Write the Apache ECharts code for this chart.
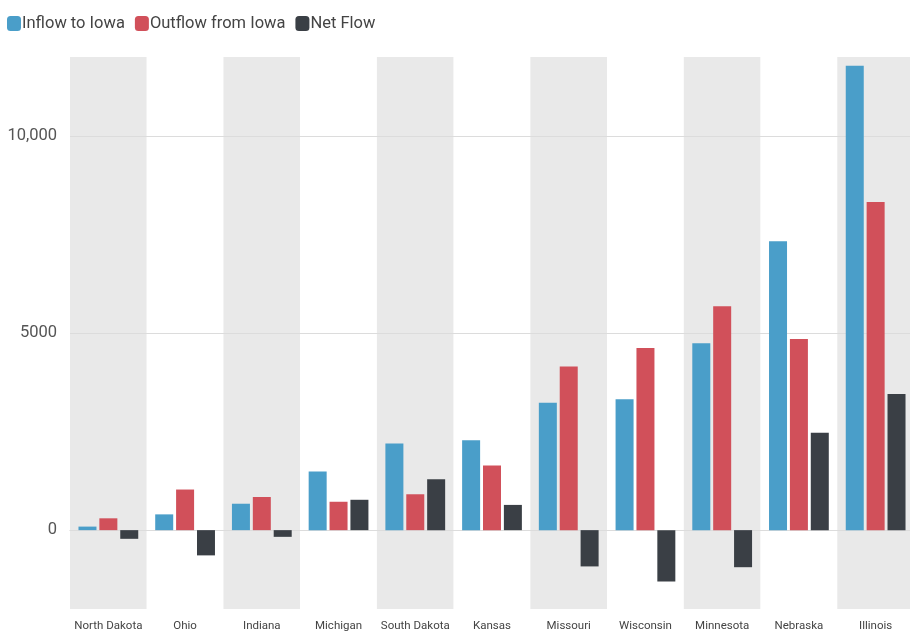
<!DOCTYPE html>
<html>
<head>
<meta charset="utf-8">
<script src="https://cdn.jsdelivr.net/npm/echarts@6/dist/echarts.min.js"></script>
<style>
html,body{margin:0;padding:0;background:#fff;overflow:hidden;}
#chart{width:914px;height:633px;}
</style>
</head>
<body>
<div id="chart"></div>
<script>
const categories = ['North Dakota','Ohio','Indiana','Michigan','South Dakota','Kansas','Missouri','Wisconsin','Minnesota','Nebraska','Illinois'];
const inflow  = [90, 400, 670, 1490, 2200, 2280, 3230, 3320, 4740, 7330, 11780];
const outflow = [300, 1030, 840, 720, 910, 1640, 4150, 4620, 5680, 4850, 8320];
const netFlow = [-220, -640, -170, 770, 1290, 640, -920, -1300, -940, 2470, 3450];
const seriesNames = ['Inflow to Iowa','Outflow from Iowa','Net Flow'];
const gridLineValues = [0, 5000, 10000];

const chart = echarts.init(document.getElementById('chart'));
const font = 'Roboto, "Noto Sans", sans-serif';
chart.setOption({
  animation: false,
  backgroundColor: '#ffffff',
  color: ['#4a9ec9', '#d1505a', '#3a3f45'],
  legend: {
    left: 2, top: 10,
    icon: 'roundRect',
    itemWidth: 14, itemHeight: 15,
    itemGap: 10,
    textStyle: {fontFamily: font, fontSize: 16.5, color: '#444', padding: [0, 0, 0, -4]},
    data: seriesNames
  },
  grid: {left: 70, top: 57, right: 0, bottom: 24, containLabel: false},
  xAxis: {
    type: 'category',
    data: categories,
    axisLine: {lineStyle: {color: '#cfcfcf'}},
    axisTick: {alignWithLabel: true, length: 6, lineStyle: {color: '#cfcfcf'}},
    axisLabel: {fontFamily: font, fontSize: 11.5, color: '#444', margin: 11, interval: 0},
    splitArea: {show: true, areaStyle: {color: ['#e9e9e9', '#ffffff']}}
  },
  yAxis: {
    type: 'value',
    min: -2000, max: 12000, interval: 1000,
    axisLine: {show: false},
    axisTick: {show: false},
    splitLine: {show: false},
    axisLabel: {
      fontFamily: font, fontSize: 16.5, color: '#555', margin: 13,
      formatter: function (v) {
        if (v === 10000) return '10,000';
        return (v % 5000 === 0 && v >= 0) ? String(v) : '';
      }
    }
  },
  series: [
    {
      name: seriesNames[0], type: 'bar', data: inflow, barWidth: 18, barGap: '16%',
      itemStyle: {color: '#4a9ec9'},
      markLine: {
        silent: true, symbol: 'none', z: 1,
        label: {show: false},
        lineStyle: {color: '#dcdcdc', type: 'solid', width: 1},
        data: gridLineValues.map(v => ({yAxis: v}))
      }
    },
    {name: seriesNames[1], type: 'bar', data: outflow, barWidth: 18, barGap: '16%', itemStyle: {color: '#d1505a'}},
    {name: seriesNames[2], type: 'bar', data: netFlow, barWidth: 18, barGap: '16%', itemStyle: {color: '#3a3f45'}}
  ]
});
</script>
</body>
</html>
